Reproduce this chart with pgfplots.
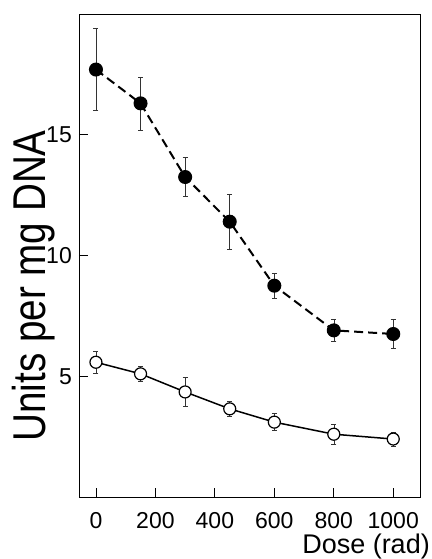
\documentclass[border=0pt]{standalone}
\usepackage{fontspec}
\setmainfont{Liberation Sans}
\usepackage{pgfplots}
\usepackage{pgfplotstable}
\pgfplotsset{compat=1.18}

\pgfplotstableread{
x y err
0 17.7 1.7
150 16.3 1.1
300 13.25 0.8
450 11.4 1.15
600 8.75 0.5
800 6.9 0.45
1000 6.75 0.6
}\filled

\pgfplotstableread{
x y err
0 5.58 0.45
150 5.1 0.3
300 4.35 0.6
450 3.65 0.3
600 3.1 0.35
800 2.6 0.4
1000 2.4 0.3
}\open

\begin{document}
\begin{tikzpicture}
\begin{axis}[
  scale only axis, width=341pt, height=483pt,
  xmin=-57, xmax=1090, ymin=0, ymax=20,
  xtick={0,200,...,1000}, ytick={5,10,15},
  tick align=inside, tick pos=left, major tick length=9pt,
  axis line style={line width=0.8pt},
  tick style={line width=0.8pt, black},
  /pgf/number format/assume math mode=true,
  /pgf/number format/1000 sep={},
  ticklabel style={font=\fontsize{23}{23}\selectfont},
  xticklabel style={anchor=north, inner sep=0pt, yshift=-15pt},
  yticklabel style={anchor=east, inner sep=0pt, xshift=-7pt},
  clip=false,
]
\coordinate (bl) at (rel axis cs:0,0);
\coordinate (tr) at (rel axis cs:1,1);
\addplot[black, line width=2pt, dash pattern=on 9pt off 5pt,
  mark=*, mark size=6pt, mark options={solid, fill=black},
  error bars/.cd, y dir=both, y explicit,
  error bar style={line width=0.5pt, black!80, solid},
  error mark options={rotate=90, mark size=2.5pt, line width=0.5pt, black!80, solid}]
  table[x=x, y=y, y error=err] {\filled};
\addplot[black, line width=1.5pt,
  mark=*, mark size=6pt, mark options={solid, fill=white, line width=1.2pt},
  error bars/.cd, y dir=both, y explicit,
  error bar style={line width=0.5pt, black!80},
  error mark options={rotate=90, mark size=2.5pt, line width=0.5pt, black!80}]
  table[x=x, y=y, y error=err] {\open};
\node[rotate=90, anchor=center, inner sep=0pt, font=\fontsize{46}{46}\selectfont]
  at ([xshift=-45pt]rel axis cs:0,0.437) {\scalebox{0.84}[1]{Units per mg DNA}};
\node[anchor=base east, inner sep=0pt, font=\fontsize{27}{27}\selectfont]
  at ([xshift=10pt,yshift=-56pt]rel axis cs:1,0) {Dose (rad)};
\end{axis}
\pgfresetboundingbox
\path[use as bounding box] ([xshift=-79pt,yshift=-62pt]bl) rectangle ([xshift=11pt,yshift=14pt]tr);
\end{tikzpicture}
\end{document}
